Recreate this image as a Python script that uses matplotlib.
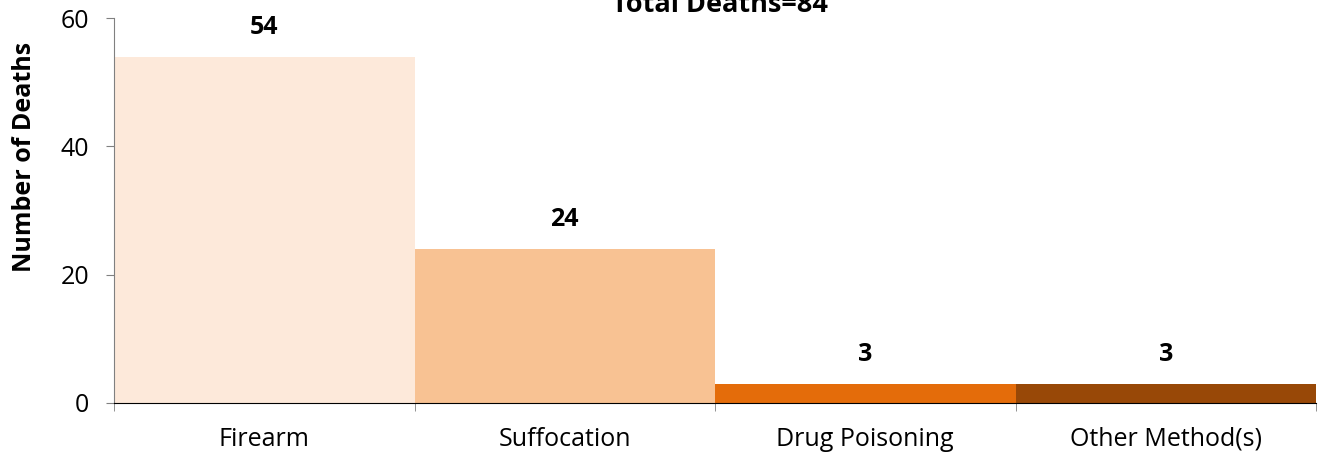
import matplotlib.pyplot as plt
import numpy as np

methods = ['Firearm', 'Suffocation', 'Drug Poisoning', 'Other Method(s)']
deaths = [54, 24, 3, 3]
colors = ['#FDE9DA', '#F8C293', '#E46C0A', '#984807']
total = sum(deaths)

plt.rcParams['font.family'] = ['Open Sans', 'DejaVu Sans']

fig = plt.figure(figsize=(13.2, 4.55), dpi=100)
ax = fig.add_axes([0.0864, 0.1143, 0.9106, 0.8461])

x = np.arange(len(methods))
bars = ax.bar(x, deaths, width=1.0, color=colors, edgecolor='none')

# value labels above each bar
for xi, val in zip(x, deaths):
    ax.annotate(str(val), (xi, val), xytext=(0, 21), textcoords='offset points',
                ha='center', va='center', fontsize=18, fontweight='bold')

ax.set_xlim(-0.5, len(methods) - 0.5)
ax.set_ylim(0, 60)
ax.set_yticks([0, 20, 40, 60])
ax.set_xticks(x)
ax.set_xticklabels(methods)
# tick marks sit between the categories
ax.set_xticks(np.arange(-0.5, len(methods)), minor=True)
ax.tick_params(axis='x', which='major', length=0, pad=17, labelsize=18)
ax.tick_params(axis='x', which='minor', length=6, color='#808080', direction='out')
ax.tick_params(axis='y', length=6, color='#808080', labelsize=18, pad=12)

for side in ['top', 'right']:
    ax.spines[side].set_visible(False)
ax.spines['left'].set_color('#808080')
ax.spines['bottom'].set_color('black')

ax.set_ylabel('Number of Deaths', fontsize=18, fontweight='bold')
ax.yaxis.set_label_coords(-0.064, 0.64)
fig.text(0.5455, 0.9736, f'Total Deaths={total}', ha='center', va='baseline',
         fontsize=19.5, fontweight='bold')

fig.savefig('out.png', dpi=100)
